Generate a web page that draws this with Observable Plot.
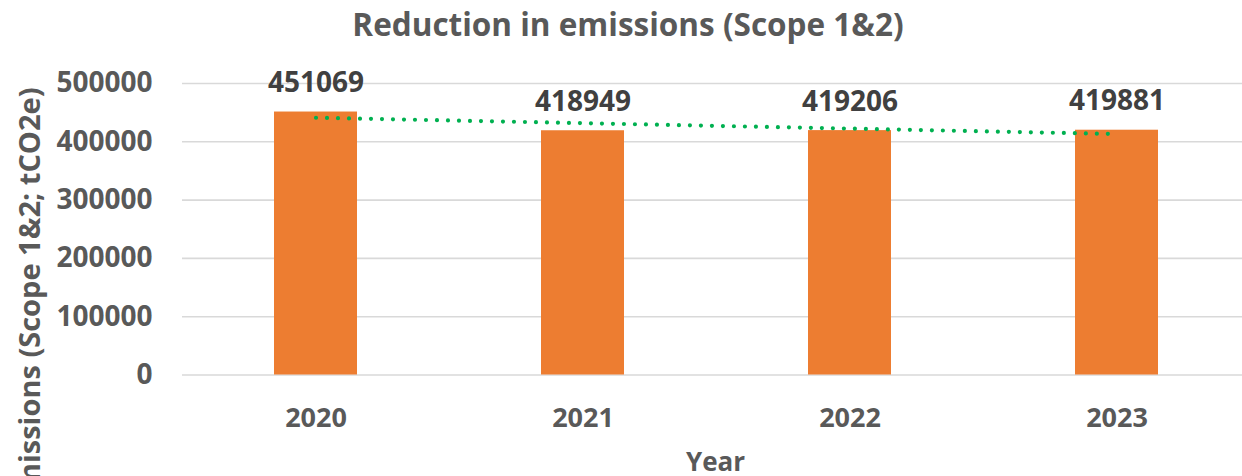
<!DOCTYPE html>
<html>
<head>
<meta charset="utf-8">
<script src="https://cdn.jsdelivr.net/npm/d3@7"></script>
<script src="https://cdn.jsdelivr.net/npm/@observablehq/plot@0.6"></script>
<style>
  html, body { margin: 0; padding: 0; background: #ffffff; }
  #chart svg { display: block; }
</style>
</head>
<body>
<div id="chart"></div>
<script>
// ---- data ----
const years = ["2020", "2021", "2022", "2023"];
const emissions = [451069, 418949, 419206, 419881];
const yTicks = [0, 100000, 200000, 300000, 400000, 500000];
const titleText = "Reduction in emissions (Scope 1&2)";
const xLabel = "Year";
const yLabel = "Emissions (Scope 1&2; tCO2e)";

const rows = years.map((year, i) => ({year, value: emissions[i], idx: i}));

// linear trendline (least squares on category index, as in a spreadsheet trendline)
const mx = d3.mean(rows, d => d.idx);
const my = d3.mean(rows, d => d.value);
const slope = d3.sum(rows, d => (d.idx - mx) * (d.value - my)) / d3.sum(rows, d => (d.idx - mx) ** 2);
const trend = rows.map(d => ({year: d.year, value: my + slope * (d.idx - mx)}));

const font = "'Open Sans', sans-serif";

const chart = Plot.plot({
  width: 1242,
  height: 476,
  marginLeft: 182,
  marginRight: 0,
  marginTop: 83,
  marginBottom: 101.5,
  style: {fontFamily: font, background: "#ffffff", overflow: "visible"},
  x: {domain: years, range: [182, 1250], paddingInner: 0.688, paddingOuter: 0.344, label: null},
  y: {domain: [0, 500000], label: null},
  marks: [
    Plot.ruleY(yTicks, {stroke: "#d9d9d9", strokeWidth: 1.6}),
    Plot.barY(rows, {x: "year", y: "value", fill: "#ED7D31"}),
    Plot.line(trend, {x: "year", y: "value", stroke: "#00B050", strokeWidth: 4.2,
      strokeDasharray: "0 11", strokeLinecap: "round"}),
    Plot.text(rows, {x: "year", y: "value", text: d => String(d.value), lineAnchor: "bottom",
      dy: -20, fill: "#404040", fontSize: 28, fontWeight: "bold"}),
    Plot.axisY({ticks: yTicks, tickFormat: d => String(d), tickSize: 0, tickPadding: 30,
      fontSize: 28, fontWeight: "bold", color: "#595959", label: null}),
    Plot.axisX({tickSize: 0, tickPadding: 32.5, fontSize: 27, fontWeight: "bold",
      color: "#595959", label: null}),
    Plot.text([titleText], {frameAnchor: "top", dx: -84.5, dy: -47.3, lineAnchor: "bottom",
      fontSize: 31.5, fontWeight: "bold", fill: "#595959"}),
    Plot.text([xLabel], {frameAnchor: "bottom", dx: 3, dy: 96, lineAnchor: "bottom",
      fontSize: 26, fontWeight: "bold", fill: "#595959"}),
    Plot.text([yLabel], {frameAnchor: "top-left", dx: 39 - 182, dy: 87 - 83, rotate: -90,
      textAnchor: "end", lineAnchor: "bottom", fontSize: 29, fontWeight: "bold", fill: "#595959"})
  ]
});
document.getElementById("chart").appendChild(chart);
</script>
</body>
</html>
